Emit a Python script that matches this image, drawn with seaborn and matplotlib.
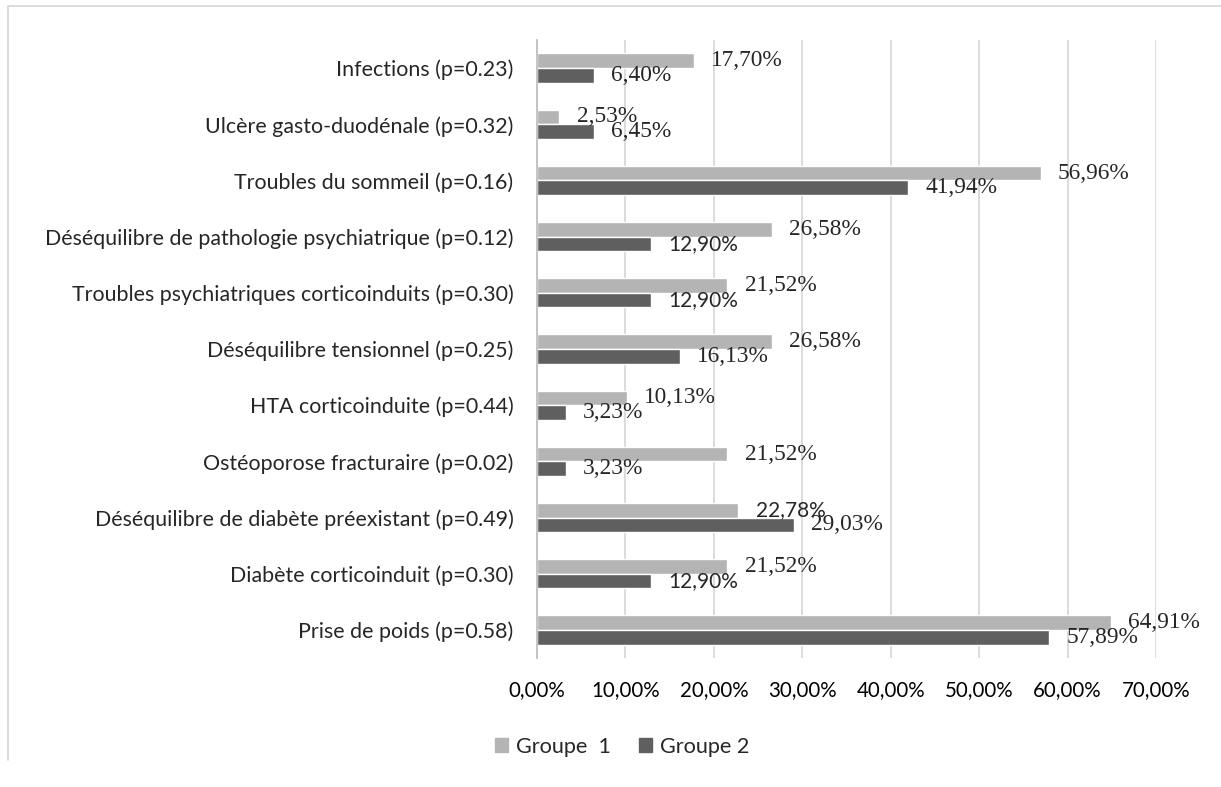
import matplotlib
matplotlib.use("Agg")
import matplotlib.pyplot as plt
import seaborn as sns
import pandas as pd
from matplotlib.lines import Line2D

categories = [
    "Infections (p=0.23)",
    "Ulcère gasto-duodénale (p=0.32)",
    "Troubles du sommeil (p=0.16)",
    "Déséquilibre de pathologie psychiatrique (p=0.12)",
    "Troubles psychiatriques corticoinduits (p=0.30)",
    "Déséquilibre tensionnel (p=0.25)",
    "HTA corticoinduite (p=0.44)",
    "Ostéoporose fracturaire (p=0.02)",
    "Déséquilibre de diabète préexistant (p=0.49)",
    "Diabète corticoinduit (p=0.30)",
    "Prise de poids (p=0.58)",
]
groupe1 = [17.70, 2.53, 56.96, 26.58, 21.52, 26.58, 10.13, 21.52, 22.78, 21.52, 64.91]
groupe2 = [6.40, 6.45, 41.94, 12.90, 12.90, 16.13, 3.23, 3.23, 29.03, 12.90, 57.89]
series_names = ["Groupe  1", "Groupe 2"]
x_ticks = [0, 10, 20, 30, 40, 50, 60, 70]
# labels drawn in a sans font in the original (index of category)
sans_labels_g1 = [8]
sans_labels_g2 = [3, 4, 9]

df = pd.DataFrame({
    "cat": categories * 2,
    "val": groupe1 + groupe2,
    "grp": [series_names[0]] * len(categories) + [series_names[1]] * len(categories),
})

sns.set_style("white")
plt.rcParams["font.family"] = ["Lato", "DejaVu Sans"]

fig = plt.figure(figsize=(12.21, 7.87), dpi=100)
ax = fig.add_axes([537 / 1221, 1 - 658 / 787, (1156 - 537) / 1221, (658 - 40) / 787])

sns.barplot(data=df, y="cat", x="val", hue="grp", orient="h",
            palette=["#b4b4b4", "#5f5f5f"], width=0.52, saturation=1,
            order=categories, hue_order=series_names, ax=ax, legend=False)

ax.set_xlim(0, 70)
ax.set_xticks(x_ticks)
ax.set_xticklabels([f"{t:.2f}%".replace(".", ",") for t in x_ticks], fontsize=14.8, color="#000000")
ax.tick_params(axis="x", length=0, pad=16)
ax.tick_params(axis="y", length=0, pad=17, labelsize=15.4)
ax.set_xlabel("")
ax.set_ylabel("")
ax.grid(axis="x", color="#d9d9d9", linewidth=1.3)
ax.set_axisbelow(True)
for s in ["top", "right", "bottom"]:
    ax.spines[s].set_visible(False)
ax.spines["left"].set_color("#bfbfbf")
ax.spines["left"].set_linewidth(1.3)

for gi, cont in enumerate(ax.containers):
    vals = groupe1 if gi == 0 else groupe2
    sans_idx = sans_labels_g1 if gi == 0 else sans_labels_g2
    labels = [f"{v:.2f}%".replace(".", ",") for v in vals]
    texts = ax.bar_label(cont, labels=labels, padding=12.5)
    for i, t in enumerate(texts):
        if i in sans_idx:
            t.set_fontfamily(["Lato", "DejaVu Sans"])
            t.set_fontsize(15)
        else:
            t.set_fontfamily(["Liberation Serif", "DejaVu Serif"])
            t.set_fontsize(16.8)
        t.set_clip_on(False)

handles = [plt.Rectangle((0, 0), 1, 1, color=c) for c in ["#b4b4b4", "#5f5f5f"]]
fig.legend(handles, series_names, loc="center", bbox_to_anchor=(622 / 1221, 1 - 747 / 787),
           ncol=2, frameon=False, fontsize=15.6, handlelength=0.62, handleheight=0.62,
           handletextpad=0.35, columnspacing=1.3)

fig.add_artist(Line2D([8 / 1221, 8 / 1221], [1 - 760 / 787, 1 - 6 / 787], color="#d9d9d9", lw=1.3,
                      transform=fig.transFigure))
fig.add_artist(Line2D([8 / 1221, 1.0], [1 - 6 / 787, 1 - 6 / 787], color="#d9d9d9", lw=1.3,
                      transform=fig.transFigure))

fig.savefig("out.png", dpi=100, facecolor="white")
